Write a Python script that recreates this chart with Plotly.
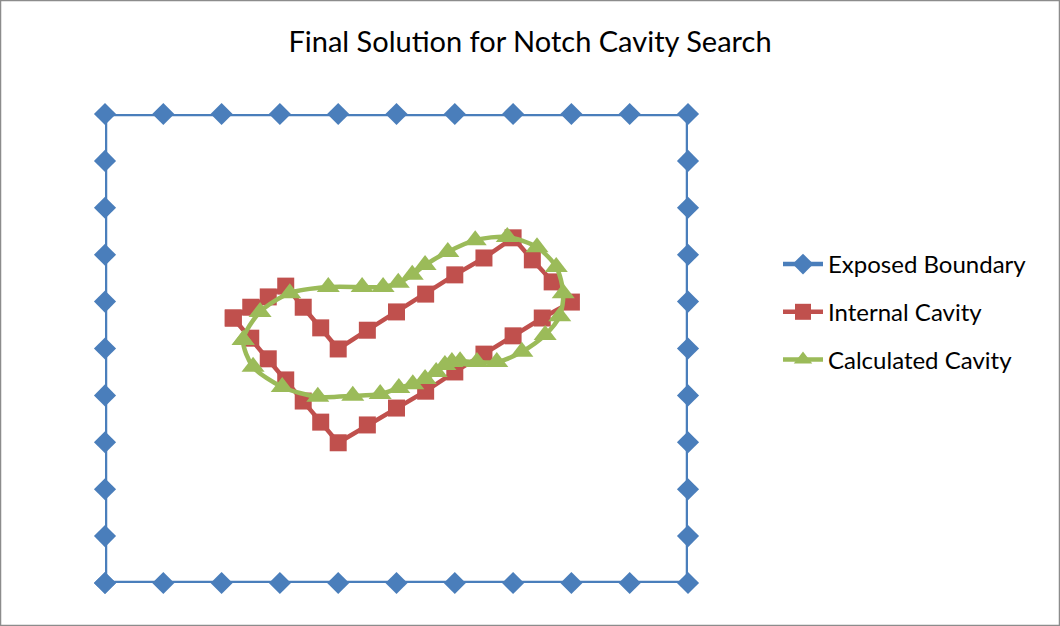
import plotly.graph_objects as go

# Exposed boundary: rectangle traced point by point
boundary_x = [0, 1, 2, 3, 4, 5, 6, 7, 8, 9, 10,
              10, 10, 10, 10, 10, 10, 10, 10, 10, 10,
              9, 8, 7, 6, 5, 4, 3, 2, 1, 0,
              0, 0, 0, 0, 0, 0, 0, 0, 0, 0]
boundary_y = [0, 0, 0, 0, 0, 0, 0, 0, 0, 0, 0,
              1, 2, 3, 4, 5, 6, 7, 8, 9, 10,
              10, 10, 10, 10, 10, 10, 10, 10, 10, 10,
              9, 8, 7, 6, 5, 4, 3, 2, 1, 0]

# Internal (true) cavity outline
internal_x = [2.2, 2.5, 2.8, 3.1, 3.4, 3.7, 4.0, 4.5, 5.0, 5.5, 6.0, 6.5, 7.0,
              7.33, 7.67, 8.0, 7.5, 7.0, 6.5, 6.0, 5.5, 5.0, 4.5, 4.0,
              3.7, 3.4, 3.1, 2.8, 2.5, 2.2]
internal_y = [5.65, 5.88, 6.10, 6.33, 5.88, 5.44, 4.99, 5.39, 5.78, 6.16, 6.57, 6.93, 7.36,
              6.89, 6.42, 5.99, 5.65, 5.27, 4.88, 4.50, 4.09, 3.73, 3.37, 2.99,
              3.43, 3.88, 4.33, 4.78, 5.22, 5.65]

# Calculated cavity outline from the search
calc_x = [2.37, 2.66, 3.17, 3.83, 4.41, 4.77, 5.03, 5.27, 5.49, 5.88, 6.35, 6.90,
          7.41, 7.74, 7.86, 7.80, 7.55, 7.15, 6.72, 6.38, 6.09, 5.95, 5.83, 5.68,
          5.49, 5.28, 5.04, 4.72, 4.25, 3.65, 3.04, 2.54, 2.37]
calc_y = [5.18, 5.78, 6.18, 6.31, 6.31, 6.31, 6.40, 6.57, 6.78, 7.06, 7.31, 7.38,
          7.16, 6.74, 6.18, 5.69, 5.29, 4.93, 4.71, 4.71, 4.73, 4.71, 4.65, 4.50,
          4.35, 4.24, 4.16, 4.03, 3.99, 3.97, 4.18, 4.61, 5.18]

BLUE = "#4A7EBB"
RED = "#C0504D"
GREEN = "#9BBB59"

W, H = 1060, 626
ML, MR, MT, MB = 105, 372, 114, 43

fig = go.Figure()
fig.add_trace(go.Scatter(
    x=boundary_x, y=boundary_y, name="Exposed Boundary", mode="lines+markers",
    legendgroup="a",
    line=dict(color=BLUE, width=4.5),
    marker=dict(symbol="diamond", size=17, color=BLUE),
    cliponaxis=False))
fig.add_trace(go.Scatter(
    x=internal_x, y=internal_y, name="Internal Cavity", mode="lines+markers",
    legendgroup="b",
    line=dict(color=RED, width=4.5),
    marker=dict(symbol="square", size=17, color=RED),
    cliponaxis=False))
fig.add_trace(go.Scatter(
    x=calc_x, y=calc_y, name="Calculated Cavity", mode="lines+markers",
    legendgroup="c",
    line=dict(color=GREEN, width=4.5, shape="spline", smoothing=0.8),
    marker=dict(symbol="triangle-up", size=20, color=GREEN),
    cliponaxis=False))

pw = W - ML - MR
ph = H - MT - MB

fig.update_layout(
    width=W, height=H,
    margin=dict(l=ML, r=MR, t=MT, b=MB),
    paper_bgcolor="white", plot_bgcolor="white",
    font=dict(family="Lato, 'Open Sans', sans-serif", color="black"),
    title=dict(text="Final Solution for Notch Cavity Search",
               x=0.5, xanchor="center", y=1 - 42 / H, yanchor="middle",
               font=dict(size=29, color="black")),
    xaxis=dict(range=[0, 10], visible=False, fixedrange=True),
    yaxis=dict(range=[0, 10], visible=False, fixedrange=True),
    showlegend=True,
    legend=dict(x=1 + (778 - (W - MR)) / pw, xanchor="left",
                y=1 - (242 - MT) / ph, yanchor="top",
                font=dict(size=24, color="black"),
                tracegroupgap=13.5, itemwidth=40, bgcolor="rgba(0,0,0,0)"),
    shapes=[dict(type="rect", xref="paper", yref="paper",
                 x0=(0.5 - ML) / pw, x1=(W - 0.5 - ML) / pw,
                 y0=(H - 0.5 - MT) / -ph + 1, y1=1 + (MT - 0.5) / ph,
                 line=dict(color="#8C8C8C", width=1.5), layer="below")],
)

fig.write_html("out.html")
